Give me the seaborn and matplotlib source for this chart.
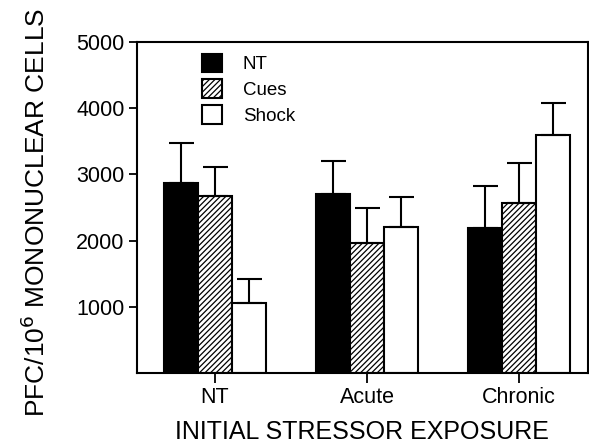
import numpy as np
import pandas as pd
import matplotlib
matplotlib.use('Agg')
import matplotlib.pyplot as plt
from matplotlib.patches import Patch
import seaborn as sns

sns.set_style('ticks')
plt.rcParams['font.family'] = ['Liberation Sans', 'DejaVu Sans']
plt.rcParams['hatch.linewidth'] = 0.9
for key in ['text.color', 'axes.labelcolor', 'xtick.color', 'ytick.color', 'axes.edgecolor']:
    plt.rcParams[key] = 'black'

# values
exposure = ['NT', 'Acute', 'Chronic']
groups = ['NT', 'Cues', 'Shock']
nt_means = [2870, 2700, 2185]
cues_means = [2680, 1960, 2565]
shock_means = [1060, 2210, 3595]
nt_err = [600, 505, 640]
cues_err = [435, 530, 605]
shock_err = [355, 455, 480]

rows = []
for g, means, errs in [('NT', nt_means, nt_err), ('Cues', cues_means, cues_err), ('Shock', shock_means, shock_err)]:
    for e, m, s in zip(exposure, means, errs):
        rows.append({'Exposure': e, 'Group': g, 'PFC': m, 'SEM': s})
df = pd.DataFrame(rows)

fig = plt.figure(figsize=(5.89, 4.47), dpi=100)
ax = fig.add_axes([0.2326, 0.1655, 0.7654, 0.7405])

sns.barplot(data=df, x='Exposure', y='PFC', hue='Group', order=exposure, hue_order=groups,
            palette=['black', 'white', 'white'], edgecolor='black', linewidth=1.5,
            width=0.67, errorbar=None, legend=False, ax=ax)

# hatch the Cues bars and add upper-only error bars
for cont, g in zip(ax.containers, groups):
    sub = df[df['Group'] == g].set_index('Exposure').loc[exposure]
    xs = [p.get_x() + p.get_width() / 2 for p in cont.patches]
    if g == 'Cues':
        for p in cont.patches:
            p.set_hatch('//////')
    ax.errorbar(xs, sub['PFC'].values, yerr=[np.zeros(len(xs)), sub['SEM'].values],
                fmt='none', ecolor='black', elinewidth=1.5, capsize=9, capthick=1.5, zorder=1)

ax.set_xlim(-0.51, 2.45)
ax.set_ylim(0, 5000)
ax.set_yticks([1000, 2000, 3000, 4000, 5000])
ax.tick_params(axis='y', labelsize=15.5, direction='out', length=6, width=1.3, pad=3)
ax.tick_params(axis='x', labelsize=15.5, direction='out', length=7, width=1.3, pad=3)
for sp in ax.spines.values():
    sp.set_linewidth(1.5)
    sp.set_visible(True)

ax.set_xlabel('INITIAL STRESSOR EXPOSURE', fontsize=18, labelpad=9)
ax.set_ylabel('PFC/10$^{6}$ MONONUCLEAR CELLS', fontsize=19, labelpad=19)
ax.yaxis.label.set_y(0.485)

handles = [Patch(facecolor='black', edgecolor='black', linewidth=1.5),
           Patch(facecolor='white', edgecolor='black', linewidth=1.5, hatch='//////'),
           Patch(facecolor='white', edgecolor='black', linewidth=1.5)]
ax.legend(handles, groups, loc='upper left', bbox_to_anchor=(0.11, 1.01), frameon=False,
          fontsize=13.5, handlelength=1.1, handleheight=1.15, handletextpad=1.1,
          labelspacing=0.32, borderaxespad=0.4)

fig.savefig('out.png', dpi=100)
